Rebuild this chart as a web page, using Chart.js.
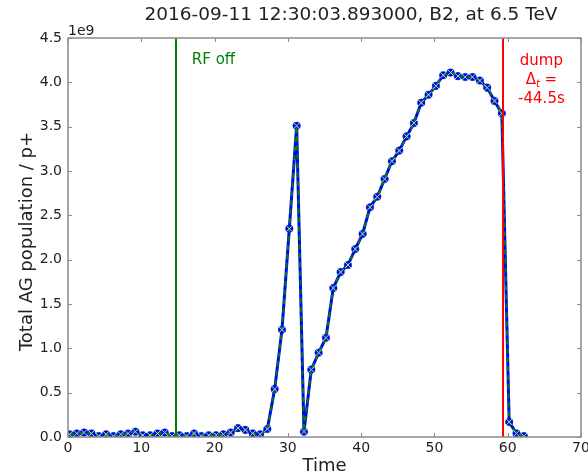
<!DOCTYPE html>
<html>
<head>
<meta charset="utf-8">
<style>
  html, body { margin: 0; padding: 0; background: #fff; }
  #wrap { width: 588px; height: 476px; }
</style>
<script src="https://cdn.jsdelivr.net/npm/chart.js@4.4.1/dist/chart.umd.min.js"></script>
</head>
<body>
<div id="wrap"><canvas id="ag-chart" width="588" height="476"></canvas></div>
<script>
// time axis (s) and total abort-gap population (units of 1e9 p+)
const times = [
  0.2, 1.2, 2.2, 3.2, 4.2, 5.2, 6.2, 7.2, 8.2, 9.2,
  10.2, 11.2, 12.2, 13.2, 14.2, 15.2, 16.2, 17.2, 18.2, 19.2,
  20.2, 21.2, 22.2, 23.2, 24.2, 25.2, 26.2, 27.2, 28.2, 29.2,
  30.2, 31.2, 32.2, 33.2, 34.2, 35.2, 36.2, 37.2, 38.2, 39.2,
  40.2, 41.2, 42.2, 43.2, 44.2, 45.2, 46.2, 47.2, 48.2, 49.2,
  50.2, 51.2, 52.2, 53.2, 54.2, 55.2, 56.2, 57.2, 58.2, 59.2,
  60.2, 61.2, 62.2
];
const population = [
  0.03, 0.04, 0.05, 0.04, 0.01, 0.03, 0.01, 0.03, 0.04, 0.06,
  0.02, 0.02, 0.04, 0.05, 0.01, 0.02, 0.01, 0.04, 0.01, 0.02,
  0.02, 0.03, 0.05, 0.10, 0.08, 0.04, 0.03, 0.09, 0.54, 1.21,
  2.35, 3.51, 0.06, 0.76, 0.95, 1.12, 1.68, 1.86, 1.94, 2.12,
  2.29, 2.59, 2.71, 2.91, 3.11, 3.23, 3.39, 3.54, 3.77, 3.86,
  3.96, 4.08, 4.11, 4.07, 4.06, 4.06, 4.02, 3.94, 3.79, 3.65,
  0.17, 0.04, 0.01
];
const xTicks = [0, 10, 20, 30, 40, 50, 60, 70];
const yTicks = [0, 0.5, 1.0, 1.5, 2.0, 2.5, 3.0, 3.5, 4.0, 4.5];
const rfOffTime = 14.7;
const dumpTime = 59.4;
const titleText = '2016-09-11 12:30:03.893000, B2, at 6.5 TeV';
const FONT = '"DejaVu Sans", sans-serif';

const points = times.map((t, i) => ({ x: t, y: population[i] }));

// frame, inward ticks, marker lines and text
const decorations = {
  id: 'decorations',
  afterDatasetsDraw(chart) {
    const { ctx, chartArea: a, scales: { x } } = chart;
    ctx.save();
    ctx.lineWidth = 2;
    ctx.strokeStyle = '#008000';
    let px = Math.round(x.getPixelForValue(rfOffTime));
    ctx.beginPath(); ctx.moveTo(px, a.top); ctx.lineTo(px, a.bottom); ctx.stroke();
    ctx.strokeStyle = '#ff0000';
    px = Math.round(x.getPixelForValue(dumpTime));
    ctx.beginPath(); ctx.moveTo(px, a.top); ctx.lineTo(px, a.bottom); ctx.stroke();
    ctx.restore();
  },
  afterDraw(chart) {
    const { ctx, chartArea: a, scales: { x, y } } = chart;
    ctx.save();
    // axes box
    ctx.strokeStyle = '#8a8a8a';
    ctx.lineWidth = 1.5;
    ctx.strokeRect(a.left, a.top, a.right - a.left, a.bottom - a.top);
    ctx.lineWidth = 1;
    ctx.beginPath();
    xTicks.forEach(v => {
      const p = Math.round(x.getPixelForValue(v)) + 0.5;
      ctx.moveTo(p, a.bottom); ctx.lineTo(p, a.bottom - 4);
      ctx.moveTo(p, a.top); ctx.lineTo(p, a.top + 4);
    });
    yTicks.forEach(v => {
      const p = Math.round(y.getPixelForValue(v)) + 0.5;
      ctx.moveTo(a.left, p); ctx.lineTo(a.left + 4, p);
      ctx.moveTo(a.right, p); ctx.lineTo(a.right - 4, p);
    });
    ctx.stroke();

    ctx.fillStyle = '#222';
    // title
    ctx.font = '18.5px ' + FONT;
    ctx.textAlign = 'center';
    ctx.textBaseline = 'middle';
    ctx.fillText(titleText, 351, 15);
    // axis titles
    ctx.font = '18px ' + FONT;
    ctx.fillText('Time', (a.left + a.right) / 2, 466);
    ctx.save();
    ctx.translate(27, (a.top + a.bottom) / 2 + 4);
    ctx.rotate(-Math.PI / 2);
    ctx.fillText('Total AG population / p+', 0, 0);
    ctx.restore();
    // exponent
    ctx.font = '14px ' + FONT;
    ctx.textAlign = 'left';
    ctx.textBaseline = 'alphabetic';
    ctx.fillText('1e9', a.left, a.top - 3);

    // RF off label
    ctx.font = '15px ' + FONT;
    ctx.fillStyle = '#008000';
    ctx.textBaseline = 'middle';
    ctx.fillText('RF off', x.getPixelForValue(rfOffTime + 2.2), y.getPixelForValue(4.25));

    // dump label
    ctx.fillStyle = '#ff0000';
    ctx.textAlign = 'center';
    const cx = x.getPixelForValue(64.6);
    ctx.fillText('dump', cx, y.getPixelForValue(4.24));
    ctx.fillText('-44.5s', cx, y.getPixelForValue(3.81));
    // Δ_t =
    const yy = y.getPixelForValue(4.02);
    ctx.textAlign = 'left';
    ctx.font = '15px ' + FONT;
    const wD = ctx.measureText('\u0394').width;
    const wEq = ctx.measureText(' =').width;
    ctx.font = 'italic 10px ' + FONT;
    const wT = ctx.measureText('t').width;
    const sx = cx - (wD + wT + wEq) / 2;
    ctx.font = '15px ' + FONT;
    ctx.fillText('\u0394', sx, yy);
    ctx.font = 'italic 10px ' + FONT;
    ctx.fillText('t', sx + wD, yy + 4);
    ctx.font = '15px ' + FONT;
    ctx.fillText(' =', sx + wD + wT, yy);
    ctx.restore();
  }
};

const tickFont = { family: FONT, size: 14 };

new Chart(document.getElementById('ag-chart').getContext('2d'), {
  type: 'line',
  data: {
    datasets: [
      {
        label: 'population',
        data: points,
        borderColor: '#0000ff',
        borderWidth: 3,
        pointRadius: 3.8,
        pointBackgroundColor: '#0000ff',
        pointBorderColor: '#00308a',
        pointBorderWidth: 0.5,
        tension: 0,
        order: 2,
      },
      {
        label: 'population (dashed)',
        data: points,
        borderColor: '#008000',
        borderWidth: 2,
        borderDash: [5, 4],
        pointStyle: 'crossRot',
        pointRadius: 4.5,
        pointBorderColor: '#a6e6a6',
        pointBorderWidth: 1,
        tension: 0,
        order: 1,
      },
    ],
  },
  options: {
    responsive: false,
    animation: false,
    devicePixelRatio: 1,
    layout: { padding: { top: 38, right: 7, left: 0, bottom: 0 } },
    plugins: { legend: { display: false }, tooltip: { enabled: false } },
    scales: {
      x: {
        type: 'linear',
        min: 0,
        max: 70,
        afterBuildTicks: s => { s.ticks = xTicks.map(v => ({ value: v })); },
        afterFit: s => { s.height = 39; s.paddingLeft = 0; s.paddingRight = 0; },
        grid: { display: false, drawTicks: false },
        border: { display: false },
        ticks: { autoSkip: false, maxRotation: 0, padding: 3, color: '#222', font: tickFont },
      },
      y: {
        type: 'linear',
        min: 0,
        max: 4.5,
        afterBuildTicks: s => { s.ticks = yTicks.map(v => ({ value: v })); },
        afterFit: s => { s.width = 68; s.paddingTop = 0; s.paddingBottom = 0; },
        grid: { display: false, drawTicks: false },
        border: { display: false },
        ticks: { padding: 6, color: '#222', font: tickFont, callback: v => v.toFixed(1) },
      },
    },
  },
  plugins: [decorations],
});
</script>
</body>
</html>
